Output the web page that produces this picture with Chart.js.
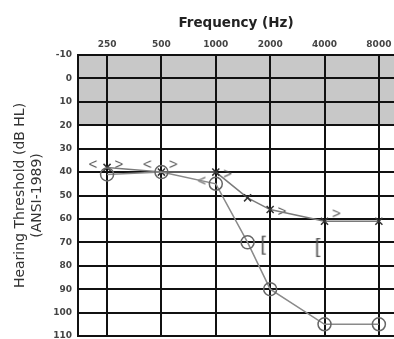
<!DOCTYPE html>
<html>
<head>
<meta charset="utf-8">
<script src="https://cdn.jsdelivr.net/npm/chart.js@4/dist/chart.umd.min.js"></script>
<style>
  html, body { margin: 0; padding: 0; background: #fff; overflow: hidden; }
</style>
</head>
<body>
<canvas id="audiogram" width="394" height="339"></canvas>
<script>
// Frequencies (Hz) and their tick labels
const freqTicks = [250, 500, 1000, 2000, 4000, 8000];
const freqs = [250, 500, 1000, 1500, 2000, 4000, 8000];

// Air conduction thresholds (dB HL)
const crossValues = [38, 40, 40, 51, 56, 61, 61];
const circleValues = [41, 40, 45, 70, 90, 105, 105];

// Bone conduction symbols
const boneLeftFreqs = [250, 500, 1000];
const boneLeftValues = [37, 37, 44];
const boneRightFreqs = [250, 500, 1000, 2000, 4000];
const boneRightValues = [37, 37, 41, 57, 58];
const maskedFreqs = [2000, 4000];
const maskedValues = [71, 72];

const dbTicks = [-10, 0, 10, 20, 30, 40, 50, 60, 70, 80, 90, 100, 110];

const FONT = '"DejaVu Sans", Verdana, sans-serif';

function toPoints(xs, ys) {
    return xs.map((f, i) => ({ x: f, y: ys[i] }));
}

// Small canvas holding a text glyph, shifted sideways from the point
function glyph(ch, shift, size) {
    const c = document.createElement('canvas');
    c.width = 48;
    c.height = 30;
    const g = c.getContext('2d');
    g.fillStyle = '#555';
    g.font = size + 'px "Liberation Sans", Arial, sans-serif';
    g.textAlign = 'center';
    g.textBaseline = 'middle';
    g.fillText(ch, 24 + shift, 15);
    return c;
}

// Gray band from -10 to 20 dB
const bandPlugin = {
    id: 'band',
    beforeDraw(chart) {
        const { ctx, chartArea, scales } = chart;
        const y1 = scales.y.getPixelForValue(-10);
        const y2 = scales.y.getPixelForValue(20);
        ctx.save();
        ctx.fillStyle = '#c8c8c8';
        ctx.fillRect(chartArea.left, y1, chartArea.right - chartArea.left, y2 - y1);
        ctx.restore();
    }
};

// keep the plot area where the picture has it
function noPad(scale) {
    scale.paddingLeft = 0;
    scale.paddingRight = 0;
    scale.paddingTop = 0;
    scale.paddingBottom = 0;
}

const ctx = document.getElementById('audiogram').getContext('2d');
new Chart(ctx, {
    type: 'scatter',
    data: {
        datasets: [
            {
                data: toPoints(freqs, circleValues),
                showLine: true,
                borderColor: '#8a8a8a',
                borderWidth: 1.5,
                pointStyle: 'circle',
                pointRadius: 6.5,
                pointBorderColor: '#666',
                pointBorderWidth: 1.5,
                pointBackgroundColor: 'rgba(255,255,255,0)'
            },
            {
                data: toPoints(freqs, crossValues),
                showLine: true,
                borderColor: '#7a7a7a',
                borderWidth: 1.5,
                pointStyle: 'crossRot',
                pointRadius: 5,
                pointBorderColor: '#333',
                pointBorderWidth: 1.5
            },
            {
                data: toPoints(boneLeftFreqs, boneLeftValues),
                showLine: false,
                pointStyle: glyph('<', -14, 15)
            },
            {
                data: toPoints(boneRightFreqs, boneRightValues),
                showLine: false,
                pointStyle: glyph('>', 12, 15)
            },
            {
                data: toPoints(maskedFreqs, maskedValues),
                showLine: false,
                pointStyle: glyph('[', -7, 20)
            }
        ]
    },
    options: {
        responsive: false,
        animation: false,
        layout: { autoPadding: false, padding: { left: 0, right: 0, top: 0, bottom: 3 } },
        plugins: {
            legend: { display: false },
            tooltip: { enabled: false }
        },
        scales: {
            x: {
                type: 'logarithmic',
                position: 'top',
                min: 172.6,
                max: 9700,
                afterBuildTicks(scale) {
                    scale.ticks = freqTicks.map(v => ({ value: v }));
                },
                afterFit(scale) { scale.height = 55; noPad(scale); },
                grid: { color: '#111', lineWidth: 2, drawTicks: false },
                border: { color: '#111', width: 2 },
                ticks: {
                    autoSkip: false,
                    maxRotation: 0,
                    padding: 5,
                    color: '#444',
                    font: { family: FONT, size: 9, weight: 'bold' },
                    callback: v => String(v)
                },
                title: {
                    display: true,
                    text: 'Frequency (Hz)',
                    color: '#222',
                    padding: { top: 15, bottom: 0 },
                    font: { family: FONT, size: 13.5, weight: 'bold' }
                }
            },
            y: {
                reverse: true,
                min: -10,
                max: 110,
                afterBuildTicks(scale) {
                    scale.ticks = dbTicks.map(v => ({ value: v }));
                },
                afterFit(scale) { scale.width = 78; noPad(scale); },
                grid: { color: '#111', lineWidth: 2, drawTicks: false },
                border: { color: '#111', width: 2 },
                ticks: {
                    padding: 6,
                    color: '#444',
                    font: { family: FONT, size: 9, weight: 'bold' }
                },
                title: {
                    display: true,
                    text: ['Hearing Threshold (dB HL)', '(ANSI-1989)'],
                    color: '#333',
                    padding: { top: 12, bottom: 0 },
                    font: { family: FONT, size: 14, lineHeight: 1.2 }
                }
            }
        }
    },
    plugins: [bandPlugin]
});
</script>
</body>
</html>
